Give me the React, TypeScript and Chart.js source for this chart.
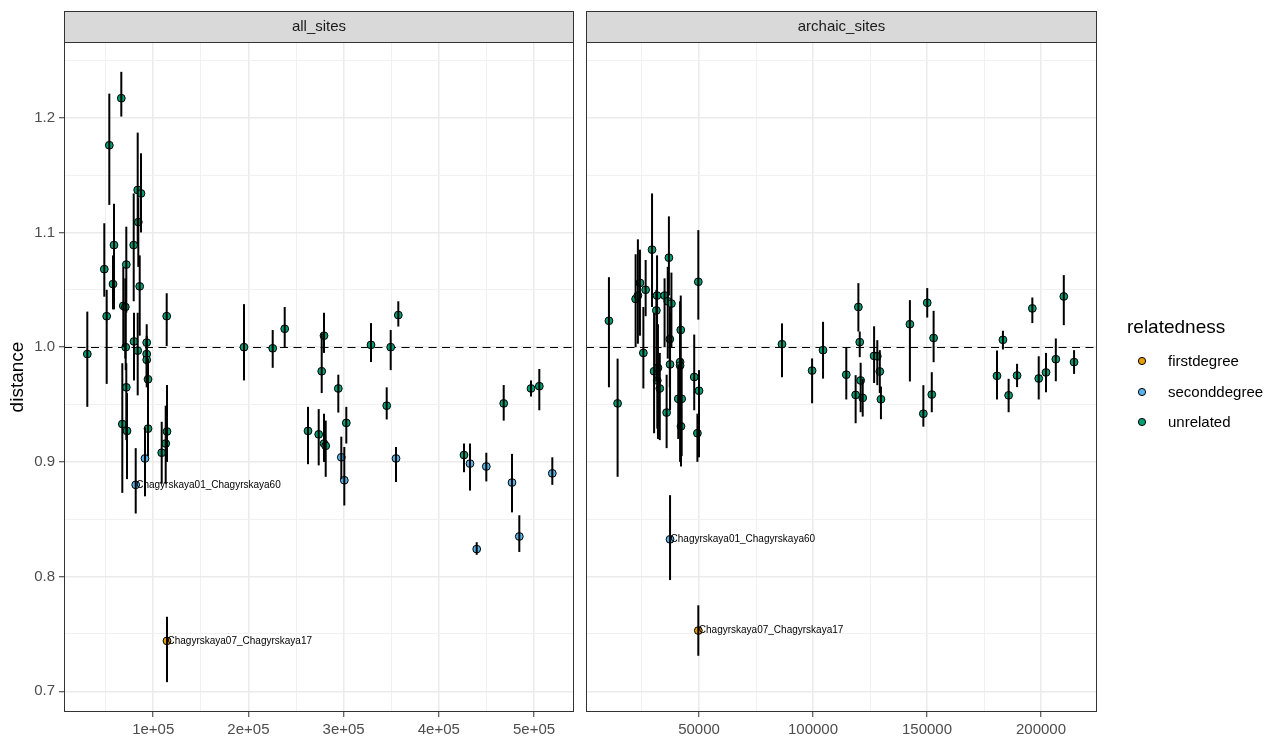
import React, { useEffect, useRef } from 'react';
import { Chart, registerables } from 'chart.js';

Chart.register(...registerables);

type Pt = [number, number, number, number, string?];

const FONT = '"Liberation Sans", Arial, Helvetica, sans-serif';
Chart.defaults.font.family = FONT;

const RELATEDNESS = ['firstdegree', 'seconddegree', 'unrelated'];
const COLORS = ['#E69F00', '#56B4E9', '#009E73'];
const PANELS = ['all_sites', 'archaic_sites'];
const Y_TITLE = 'distance';
const LEGEND_TITLE = 'relatedness';
const REF_LINE = 1.0;

const Y_MAJOR = [0.7, 0.8, 0.9, 1.0, 1.1, 1.2];
const Y_MAJOR_LABELS = ['0.7', '0.8', '0.9', '1.0', '1.1', '1.2'];
const Y_MINOR = [0.75, 0.85, 0.95, 1.05, 1.15, 1.25];
const Y_LIMITS = [0.682, 1.266];

const X1_MAJOR = [100000, 200000, 300000, 400000, 500000];
const X1_LABELS = ['1e+05', '2e+05', '3e+05', '4e+05', '5e+05'];
const X1_MINOR = [50000, 150000, 250000, 350000, 450000];
const X1_LIMITS = [6300, 542000];

const X2_MAJOR = [50000, 100000, 150000, 200000];
const X2_LABELS = ['50000', '100000', '150000', '200000'];
const X2_MINOR = [25000, 75000, 125000, 175000];
const X2_LIMITS = [439, 224560];

// [x, distance, lower, upper, label?]
const allFirst: Pt[] = [
  [114490, 0.744, 0.708, 0.765, 'Chagyrskaya07_Chagyrskaya17'],
];

const allSecond: Pt[] = [
  [91380, 0.903, 0.870, 0.930],
  [81620, 0.880, 0.855, 0.912, 'Chagyrskaya01_Chagyrskaya60'],
  [297580, 0.904, 0.885, 0.922],
  [300730, 0.884, 0.862, 0.913],
  [355040, 0.903, 0.8825, 0.913],
  [432760, 0.8985, 0.875, 0.916],
  [449890, 0.896, 0.883, 0.908],
  [439800, 0.824, 0.819, 0.830],
  [476880, 0.882, 0.856, 0.907],
  [484550, 0.835, 0.8215, 0.8535],
  [519220, 0.890, 0.880, 0.904],
];

const allUnrelated: Pt[] = [
  [30780, 0.994, 0.948, 1.031],
  [53890, 1.176, 1.124, 1.221],
  [66490, 1.217, 1.201, 1.240],
  [83720, 1.137, 1.090, 1.187],
  [87180, 1.134, 1.100, 1.169],
  [84350, 1.109, 1.070, 1.130],
  [58820, 1.089, 1.033, 1.125],
  [79520, 1.089, 1.040, 1.134],
  [48630, 1.068, 1.044, 1.108],
  [71740, 1.072, 1.030, 1.105],
  [57770, 1.055, 1.033, 1.080],
  [85820, 1.053, 1.010, 1.080],
  [68590, 1.036, 1.000, 1.070],
  [70690, 1.035, 0.990, 1.060],
  [51150, 1.027, 0.968, 1.050],
  [114180, 1.027, 1.001, 1.047],
  [71110, 1.000, 0.980, 1.030],
  [79830, 1.005, 0.971, 1.030],
  [93170, 1.004, 0.985, 1.020],
  [83720, 0.997, 0.958, 1.030],
  [93170, 0.994, 0.970, 1.010],
  [93170, 0.989, 0.965, 1.005],
  [94540, 0.972, 0.952, 0.990],
  [71740, 0.965, 0.919, 0.986],
  [67540, 0.933, 0.873, 0.986],
  [72480, 0.927, 0.885, 0.960],
  [94540, 0.929, 0.905, 0.970],
  [114490, 0.9265, 0.900, 0.967],
  [113130, 0.916, 0.881, 0.949],
  [108930, 0.908, 0.881, 0.935],
  [195370, 1.000, 0.971, 1.0375],
  [225520, 0.999, 0.982, 1.015],
  [238130, 1.016, 1.000, 1.035],
  [279410, 1.010, 0.995, 1.030],
  [277000, 0.979, 0.960, 1.012],
  [294430, 0.964, 0.943, 0.976],
  [262600, 0.927, 0.898, 0.948],
  [273840, 0.924, 0.897, 0.946],
  [279410, 0.916, 0.900, 0.942],
  [281190, 0.914, 0.887, 0.936],
  [302830, 0.934, 0.916, 0.948],
  [328780, 1.002, 0.987, 1.021],
  [349470, 1.000, 0.980, 1.015],
  [345270, 0.949, 0.937, 0.965],
  [357450, 1.028, 1.018, 1.040],
  [426460, 0.906, 0.891, 0.916],
  [468160, 0.951, 0.936, 0.967],
  [496840, 0.964, 0.957, 0.971],
  [505560, 0.966, 0.945, 0.981],
];

const archaicFirst: Pt[] = [
  [49700, 0.753, 0.731, 0.775, 'Chagyrskaya07_Chagyrskaya17'],
];

const archaicSecond: Pt[] = [
  [37300, 0.8325, 0.797, 0.871, 'Chagyrskaya01_Chagyrskaya60'],
];

const archaicUnrelated: Pt[] = [
  [10500, 1.023, 0.965, 1.061],
  [14300, 0.951, 0.887, 0.990],
  [22200, 1.042, 1.000, 1.081],
  [23200, 1.045, 1.003, 1.094],
  [24100, 1.056, 1.010, 1.085],
  [25600, 0.995, 0.964, 1.035],
  [26600, 1.050, 1.027, 1.076],
  [29400, 1.085, 1.035, 1.134],
  [30300, 0.979, 0.925, 1.030],
  [31300, 1.032, 0.970, 1.050],
  [31600, 1.045, 0.990, 1.080],
  [31700, 0.971, 0.929, 1.010],
  [32000, 0.982, 0.920, 1.020],
  [32800, 0.964, 0.919, 0.995],
  [34900, 1.045, 1.000, 1.060],
  [35800, 0.943, 0.912, 0.976],
  [36300, 1.040, 0.990, 1.070],
  [36800, 1.078, 1.045, 1.114],
  [37200, 1.007, 0.965, 1.035],
  [37300, 0.985, 0.945, 1.030],
  [37900, 1.038, 1.000, 1.065],
  [40900, 0.955, 0.920, 0.985],
  [41700, 0.987, 0.930, 1.020],
  [41700, 0.984, 0.900, 1.040],
  [42000, 1.015, 0.970, 1.045],
  [42100, 0.931, 0.896, 0.965],
  [42400, 0.955, 0.905, 0.990],
  [47900, 0.974, 0.945, 1.011],
  [49300, 0.925, 0.900, 0.942],
  [49700, 1.057, 1.024, 1.102],
  [50000, 0.962, 0.904, 0.980],
  [86400, 1.0026, 0.9738, 1.0207],
  [99600, 0.9796, 0.9511, 0.9902],
  [104400, 0.9974, 0.9726, 1.0221],
  [114600, 0.976, 0.9544, 0.9997],
  [119900, 1.035, 1.0136, 1.0558],
  [120500, 1.0044, 0.9913, 1.0136],
  [118700, 0.9584, 0.9337, 0.9756],
  [120900, 0.971, 0.9433, 0.9864],
  [121800, 0.9558, 0.9395, 0.9721],
  [126800, 0.9924, 0.9688, 1.0182],
  [128200, 0.992, 0.9669, 1.0061],
  [129300, 0.9788, 0.96, 0.9974],
  [129800, 0.9546, 0.9372, 0.9657],
  [142500, 1.020, 0.9701, 1.041],
  [150100, 1.0387, 1.0258, 1.0515],
  [152900, 1.008, 0.9869, 1.0317],
  [148400, 0.942, 0.9307, 0.9669],
  [152100, 0.9587, 0.9433, 0.9782],
  [180700, 0.975, 0.9544, 0.9971],
  [183300, 1.0064, 0.998, 1.0143],
  [185800, 0.958, 0.9433, 0.9724],
  [189500, 0.9753, 0.9652, 0.9855],
  [196200, 1.0338, 1.021, 1.0433],
  [199000, 0.9727, 0.9544, 0.9921],
  [202200, 0.978, 0.9607, 0.995],
  [206500, 0.9895, 0.9703, 1.0076],
  [210000, 1.0442, 1.0192, 1.0628],
  [214500, 0.987, 0.9767, 0.9974],
];

const near = (arr: number[], v: number) =>
  arr.findIndex((a) => Math.abs(a - v) <= 1e-6 * Math.max(1, Math.abs(a)));

const CANVAS_H = 736;
const PLOT_TOP = 42;
const STRIP_TOP = 11;
const X_AXIS_H = 24;

interface PanelProps {
  title: string;
  groups: Pt[][];
  xMajor: number[];
  xLabels: string[];
  xMinor: number[];
  xLimits: number[];
  showY: boolean;
  left: number;
  width: number;
  padLeft: number;
  padRight: number;
  showLegend: boolean;
}

function Panel(props: PanelProps) {
  const ref = useRef<HTMLCanvasElement>(null);
  useEffect(() => {
    const p = props;
    const gridColor = (major: boolean) => (major ? '#EBEBEB' : '#F1F1F1');
    const deco = {
      id: 'deco',
      beforeDatasetsDraw(chart: any) {
        const { ctx, chartArea, scales } = chart;
        const y = Math.round(scales.y.getPixelForValue(REF_LINE)) + 0.5;
        ctx.save();
        ctx.strokeStyle = '#000';
        ctx.lineWidth = 1;
        ctx.setLineDash([8, 5.5]);
        ctx.beginPath();
        ctx.moveTo(chartArea.left, y);
        ctx.lineTo(chartArea.right, y);
        ctx.stroke();
        ctx.restore();
      },
      afterDatasetsDraw(chart: any) {
        const { ctx, scales } = chart;
        ctx.save();
        ctx.strokeStyle = '#000';
        ctx.lineWidth = 2;
        chart.data.datasets.forEach((ds: any) => {
          ds.data.forEach((d: any) => {
            const x = scales.x.getPixelForValue(d.x);
            ctx.beginPath();
            ctx.moveTo(x, scales.y.getPixelForValue(d.lo));
            ctx.lineTo(x, scales.y.getPixelForValue(d.hi));
            ctx.stroke();
          });
        });
        ctx.fillStyle = '#000';
        ctx.font = `10px ${FONT}`;
        ctx.textAlign = 'left';
        ctx.textBaseline = 'middle';
        chart.data.datasets.forEach((ds: any) => {
          ds.data.forEach((d: any) => {
            if (d.text) {
              ctx.fillText(d.text, scales.x.getPixelForValue(d.x) + 0.5, scales.y.getPixelForValue(d.y));
            }
          });
        });
        ctx.restore();
      },
      afterDraw(chart: any) {
        const { ctx, chartArea } = chart;
        const { left, right, top, bottom } = chartArea;
        ctx.save();
        ctx.strokeStyle = '#333333';
        ctx.lineWidth = 1;
        ctx.strokeRect(left + 0.5, top + 0.5, right - left - 1, bottom - top - 1);
        ctx.fillStyle = '#D9D9D9';
        ctx.fillRect(left, STRIP_TOP, right - left, top - STRIP_TOP);
        ctx.strokeRect(left + 0.5, STRIP_TOP + 0.5, right - left - 1, top - STRIP_TOP);
        ctx.fillStyle = '#1A1A1A';
        ctx.font = `15px ${FONT}`;
        ctx.textAlign = 'center';
        ctx.textBaseline = 'middle';
        ctx.fillText(p.title, (left + right) / 2, (STRIP_TOP + top) / 2 + 0.5);
        if (p.showY) {
          ctx.save();
          ctx.translate(18, (top + bottom) / 2);
          ctx.rotate(-Math.PI / 2);
          ctx.fillStyle = '#000';
          ctx.font = `19px ${FONT}`;
          ctx.fillText(Y_TITLE, 0, 0);
          ctx.restore();
        }
        if (p.showLegend) {
          const ox = -p.left;
          ctx.fillStyle = '#000';
          ctx.font = `19px ${FONT}`;
          ctx.textAlign = 'left';
          ctx.textBaseline = 'alphabetic';
          ctx.fillText(LEGEND_TITLE, 1127 + ox, 333);
          const ys = [361, 392, 422];
          RELATEDNESS.forEach((name, i) => {
            ctx.beginPath();
            ctx.arc(1142 + ox, ys[i], 3.6, 0, Math.PI * 2);
            ctx.fillStyle = COLORS[i];
            ctx.fill();
            ctx.lineWidth = 1;
            ctx.strokeStyle = '#000';
            ctx.stroke();
            ctx.fillStyle = '#000';
            ctx.font = `15px ${FONT}`;
            ctx.textBaseline = 'middle';
            ctx.fillText(name, 1168 + ox, ys[i] + 0.5);
          });
        }
        ctx.restore();
      },
    };

    const datasets = p.groups.map((g, i) => ({
      label: RELATEDNESS[i],
      data: g.map((d) => ({ x: d[0], y: d[1], lo: d[2], hi: d[3], text: d[4] })),
      backgroundColor: COLORS[i],
      borderColor: '#000',
      borderWidth: 1,
      pointRadius: 3.9,
      pointHoverRadius: 3.9,
    }));

    const chart = new Chart(ref.current as HTMLCanvasElement, {
      type: 'scatter',
      data: { datasets } as any,
      plugins: [deco],
      options: {
        responsive: false,
        animation: false,
        devicePixelRatio: 1,
        events: [],
        layout: { padding: { left: p.padLeft, right: p.padRight, top: PLOT_TOP, bottom: 0 } },
        plugins: { legend: { display: false }, tooltip: { enabled: false } },
        scales: {
          x: {
            type: 'linear',
            min: p.xLimits[0],
            max: p.xLimits[1],
            afterBuildTicks: (s: any) => {
              s.ticks = [...p.xMajor, ...p.xMinor].sort((a, b) => a - b).map((v) => ({ value: v }));
            },
            afterFit: (s: any) => {
              s.height = X_AXIS_H;
            },
            ticks: {
              autoSkip: false,
              maxRotation: 0,
              minRotation: 0,
              padding: 4,
              color: '#4D4D4D',
              font: { family: FONT, size: 15 },
              callback: (v: any) => {
                const k = near(p.xMajor, Number(v));
                return k >= 0 ? p.xLabels[k] : '';
              },
            },
            grid: {
              color: (c: any) => gridColor(c.tick ? near(p.xMajor, c.tick.value) >= 0 : true),
              lineWidth: (c: any) => (c.tick && near(p.xMajor, c.tick.value) >= 0 ? 1.5 : 1),
              tickColor: (c: any) =>
                c.tick && near(p.xMajor, c.tick.value) >= 0 ? '#333333' : 'rgba(0,0,0,0)',
              tickLength: 5,
              tickWidth: 1,
            },
            border: { display: false },
          },
          y: {
            type: 'linear',
            min: Y_LIMITS[0],
            max: Y_LIMITS[1],
            afterBuildTicks: (s: any) => {
              s.ticks = [...Y_MAJOR, ...Y_MINOR].sort((a, b) => a - b).map((v) => ({ value: v }));
            },
            afterFit: (s: any) => {
              s.width = p.showY ? 64 : 0;
            },
            ticks: {
              display: p.showY,
              autoSkip: false,
              padding: 4,
              color: '#4D4D4D',
              font: { family: FONT, size: 15 },
              callback: (v: any) => {
                const k = near(Y_MAJOR, Number(v));
                return k >= 0 ? Y_MAJOR_LABELS[k] : '';
              },
            },
            grid: {
              color: (c: any) => gridColor(c.tick ? near(Y_MAJOR, c.tick.value) >= 0 : true),
              lineWidth: (c: any) => (c.tick && near(Y_MAJOR, c.tick.value) >= 0 ? 1.5 : 1),
              drawTicks: p.showY,
              tickColor: (c: any) =>
                c.tick && near(Y_MAJOR, c.tick.value) >= 0 ? '#333333' : 'rgba(0,0,0,0)',
              tickLength: 5,
              tickWidth: 1,
            },
            border: { display: false },
          },
        },
      } as any,
    });
    return () => chart.destroy();
  }, []);
  return (
    <canvas
      ref={ref}
      width={props.width}
      height={CANVAS_H}
      style={{ position: 'absolute', left: props.left, top: 0, width: props.width, height: CANVAS_H }}
    />
  );
}

export default function App() {
  return (
    <div
      style={{
        position: 'fixed',
        left: 0,
        top: 0,
        width: 1280,
        height: 736,
        background: '#FFFFFF',
        overflow: 'hidden',
      }}
    >
      <Panel
        title={PANELS[0]}
        groups={[allFirst, allSecond, allUnrelated]}
        xMajor={X1_MAJOR}
        xLabels={X1_LABELS}
        xMinor={X1_MINOR}
        xLimits={X1_LIMITS}
        showY={true}
        left={0}
        width={580}
        padLeft={0}
        padRight={6}
        showLegend={false}
      />
      <Panel
        title={PANELS[1]}
        groups={[archaicFirst, archaicSecond, archaicUnrelated]}
        xMajor={X2_MAJOR}
        xLabels={X2_LABELS}
        xMinor={X2_MINOR}
        xLimits={X2_LIMITS}
        showY={false}
        left={580}
        width={700}
        padLeft={6}
        padRight={183}
        showLegend={true}
      />
    </div>
  );
}
